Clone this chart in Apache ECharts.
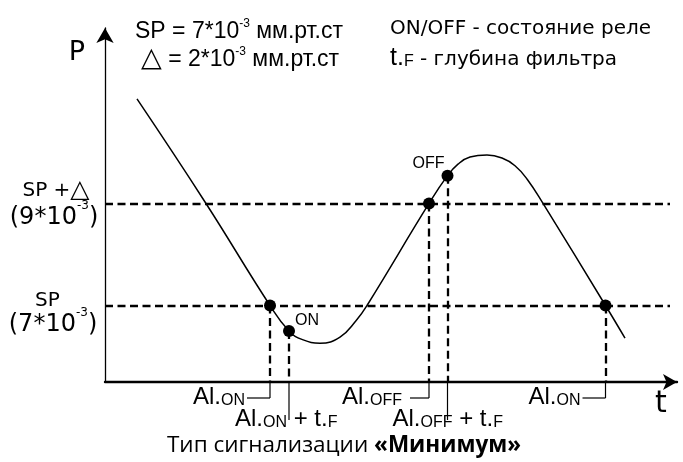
<!DOCTYPE html>
<html><head><meta charset="utf-8">
<script src="https://cdn.jsdelivr.net/npm/echarts@6/dist/echarts.min.js"></script>
<style>html,body{margin:0;padding:0;background:#fff}#c{width:683px;height:462px}</style>
</head><body><div id="c"></div>
<script>
// time in arbitrary units, pressure in 10^-3 mm Hg
const curveT = [6.4, 20.2, 33.0, 36.8, 39.5, 43.0, 47.0, 50.2, 52.4, 64.8, 68.5, 70.6, 73.0, 76.4, 79.4, 82.0, 84.4, 87.6, 100.1, 104.0];
const curveP = [11.05, 9.0, 7.0, 6.5, 6.33, 6.26, 6.38, 6.70, 7.0, 9.0, 9.545, 9.77, 9.91, 9.95, 9.89, 9.74, 9.48, 9.0, 7.0, 6.36];
const eventT = [33.0, 36.8, 64.8, 68.5, 100.1];
const eventP = [7.0, 6.5, 9.0, 9.545, 7.0];
const eventNames = ['', 'ON', '', 'OFF', ''];
const SP = 7, DELTA = 2;
const levels = [SP, SP + DELTA];
const yMin = 5.5, yMax = 12.44, tMin = 0, tMax = 114.4, levelEnd = 113;

const F = 'Liberation Sans';
const D = 'DejaVu Sans';

const chart = echarts.init(document.getElementById('c'));
const dash = {color: '#000', width: 2.3, type: [8, 4.5]};
const option = {
  animation: false,
  backgroundColor: '#fff',
  grid: {left: 105, right: 6, top: 28, bottom: 80},
  xAxis: {type: 'value', min: tMin, max: tMax,
    axisLine: {show: true, onZero: false, symbol: ['none', 'arrow'], symbolSize: [12, 14], lineStyle: {color: '#000', width: 2.4}},
    axisTick: {show: false}, axisLabel: {show: false}, splitLine: {show: false}},
  yAxis: {type: 'value', min: yMin, max: yMax,
    axisLine: {show: true, onZero: false, symbol: ['none', 'arrow'], symbolSize: [13, 15], lineStyle: {color: '#000', width: 1.3}},
    axisTick: {show: false}, axisLabel: {show: false}, splitLine: {show: false}},
  series: [
    {type: 'line', data: curveT.map((t, i) => [t, curveP[i]]), smooth: 0.45, showSymbol: false,
      lineStyle: {color: '#000', width: 1.5}, z: 3, silent: true,
      markLine: {silent: true, symbol: ['none', 'none'], label: {show: false}, lineStyle: dash,
        data: levels.map(v => [{coord: [tMin, v]}, {coord: [levelEnd, v]}])
          .concat(eventT.map((t, i) => [{coord: [t, eventP[i]]}, {coord: [t, yMin]}]))}},
    {type: 'scatter', symbol: 'circle', symbolSize: 12, itemStyle: {color: '#000', opacity: 1}, z: 5, silent: true,
      data: eventT.map((t, i) => ({value: [t, eventP[i]], name: eventNames[i]})),
      label: {show: true, formatter: p => p.name, position: 'inside', color: '#000', fontFamily: F, fontSize: 16}}
  ]
};
option.series[1].data[1].label = {offset: [18, -10]};
option.series[1].data[3].label = {offset: [-19, -12]};
chart.setOption(option);

const base = chart.convertToPixel({gridIndex: 0}, [0, yMin]);
const axisY = base[1];
const ex = eventT.map(t => chart.convertToPixel({gridIndex: 0}, [t, yMin])[0]);

const g = [];
function txt(x, y, text, rich, align) {
  g.push({type: 'text', x: x, y: y, silent: true,
    style: {text: text, rich: rich, align: align || 'left', verticalAlign: 'middle', fill: '#000', fontFamily: F, fontSize: 20}});
}
function seg(x1, y1, x2, y2) {
  g.push({type: 'line', silent: true, shape: {x1: x1, y1: y1, x2: x2, y2: y2}, style: {stroke: '#000', lineWidth: 1.2}});
}
const alRich = {
  a: {fontFamily: F, fontSize: 24},
  s: {fontFamily: F, fontSize: 16, padding: [5.6, 0, 0, 0]}
};
// connectors below axis
[0, 2, 4].forEach(i => {
  const gap = i === 2 ? 19 : 23;
  seg(ex[i], axisY, ex[i], axisY + 16);
  seg(ex[i] - gap, axisY + 16, ex[i], axisY + 16);
});
[1, 3].forEach(i => seg(ex[i], axisY, ex[i], axisY + 38));
txt(ex[0] - 25, axisY + 15.7, '{a|Al.}{s|ON}', alRich, 'right');
txt(ex[2] - 27, axisY + 15.7, '{a|Al.}{s|OFF}', alRich, 'right');
txt(ex[4] - 25, axisY + 15.7, '{a|Al.}{s|ON}', alRich, 'right');
txt(ex[1] - 54, axisY + 37.7, '{a|Al.}{s|ON}{a| + t.}{s|F}', alRich, 'left');
txt(ex[3] - 55, axisY + 37.7, '{a|Al.}{s|OFF}{a| + t.}{s|F}', alRich, 'left');

// axis names
txt(77, 53, '{p|P}', {p: {fontFamily: D, fontSize: 27}}, 'center');
txt(661, 404, '{p|t}', {p: {fontFamily: D, fontSize: 30}}, 'center');

// header
const hRich = {
  m: {fontFamily: F, fontSize: 23},
  s: {fontFamily: F, fontSize: 12, padding: [0, 0, 16, 0]},
  t: {fontFamily: D, fontSize: 27, padding: [0, 0, 2, 0]}
};
txt(135, 32, '{m|SP = 7*10}{s|-3}{m| мм.рт.ст}', hRich);
txt(141, 60, '{t|△}{m| = 2*10}{s|-3}{m| мм.рт.ст}', hRich);
const rRich = {
  d: {fontFamily: D, fontSize: 20, padding: [4.2, 0, 0, 0]},
  t: {fontFamily: F, fontSize: 25},
  f: {fontFamily: F, fontSize: 16, padding: [6.6, 0, 0, 0]}
};
txt(390, 29, '{d|ON/OFF - состояние реле}', {d: {fontFamily: D, fontSize: 20}});
txt(390, 58, '{t|t.}{f|F}{d| - глубина фильтра}', rRich);

// level labels
const lRich = {
  m: {fontFamily: D, fontSize: 20},
  tr: {fontFamily: D, fontSize: 25, padding: [0, 0, 1, 0]},
  b: {fontFamily: D, fontSize: 24},
  s: {fontFamily: D, fontSize: 12, padding: [0, 0, 24, 0]}
};
txt(56, 191, '{m|SP +}{tr|△}', lRich, 'center');
txt(54, 218.2, '{b|(9*10}{s|-3}{b|)}', lRich, 'center');
txt(47.5, 301, '{m|SP}', lRich, 'center');
txt(53, 324.7, '{b|(7*10}{s|-3}{b|)}', lRich, 'center');

// title
txt(344, 446, '{r|Тип сигнализации }{b|«Минимум»}', {
  r: {fontFamily: 'Open Sans', fontSize: 22.5},
  b: {fontFamily: 'Open Sans', fontSize: 22.5, fontWeight: 'bold'}
}, 'center');

chart.setOption({graphic: {elements: g}});
</script>
</body></html>
